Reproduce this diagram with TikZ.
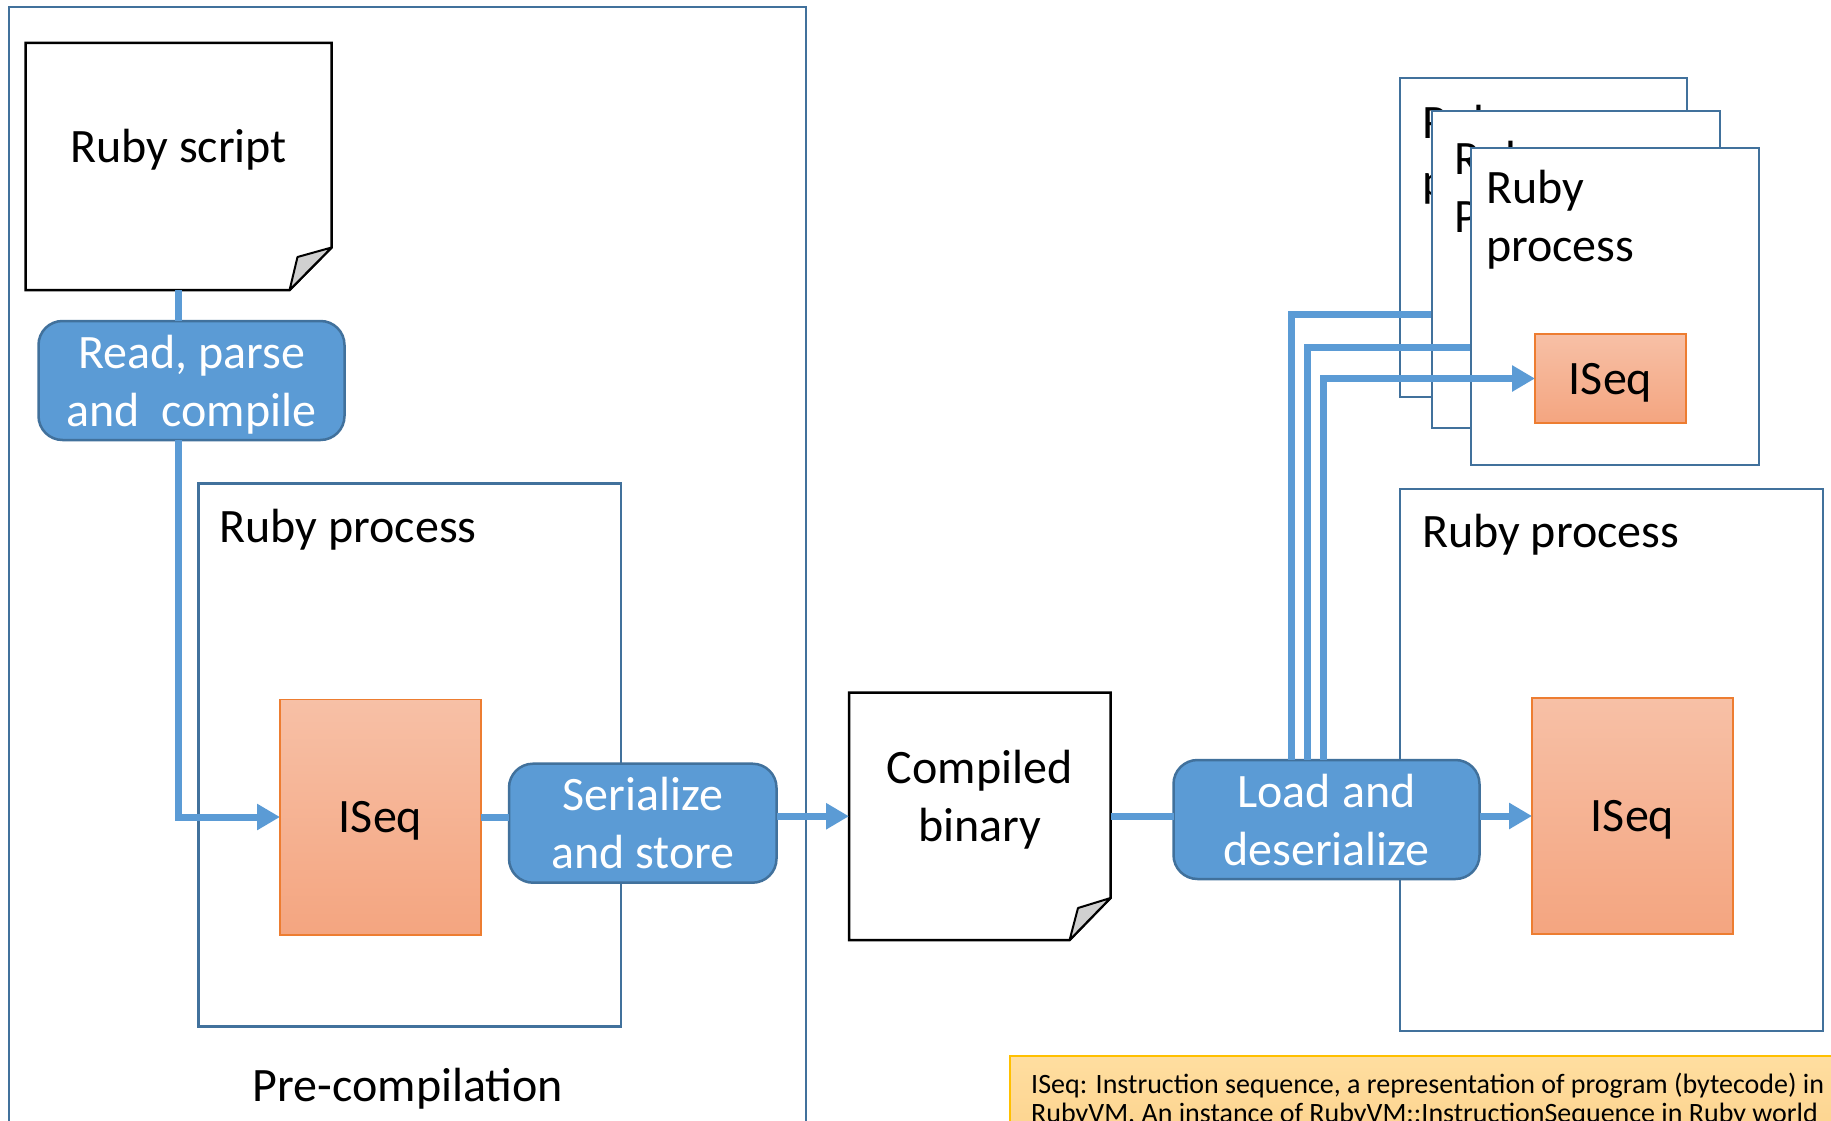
\documentclass[tikz,border=0pt]{standalone}
\usepackage{fontspec}
\setmainfont{Carlito}
\usetikzlibrary{arrows.meta,calc}
\definecolor{connblue}{RGB}{91,155,213}
\definecolor{boxfill}{RGB}{91,155,213}
\definecolor{boxline}{RGB}{65,113,156}
\definecolor{frameblue}{RGB}{65,113,156}
\definecolor{isqtop}{RGB}{247,192,166}
\definecolor{isqbot}{RGB}{244,165,128}
\definecolor{isqline}{RGB}{237,125,49}
\definecolor{notetop}{RGB}{255,222,160}
\definecolor{notebot}{RGB}{252,210,140}
\definecolor{noteline}{RGB}{255,192,0}
\definecolor{foldgray}{RGB}{208,208,208}
\begin{document}
\begin{tikzpicture}[x=1pt,y=-1pt,
  bigtext/.style={font=\fontsize{48}{58}\selectfont, inner sep=0pt, outer sep=0pt},
  procbox/.style={draw=frameblue, line width=2.2pt, fill=white, inner sep=0pt, outer sep=0pt, anchor=north west},
  stepbox/.style={draw=boxline, line width=2.5pt, fill=boxfill, rounded corners=24pt, text=white, align=center, inner sep=0pt, outer sep=0pt, anchor=north west, text depth=0pt, font=\fontsize{48}{58}\selectfont},
  iseqbox/.style={draw=isqline, line width=1.5pt, top color=isqtop, bottom color=isqbot, inner sep=0pt, outer sep=0pt, anchor=north west, text depth=0pt, font=\fontsize{48}{58}\selectfont},
  ghost/.style={draw=none, inner sep=0pt, outer sep=0pt, anchor=north west},
  docline/.style={draw=black, line width=2.5pt, fill=white, line join=miter},
  flapline/.style={draw=black, line width=2pt, fill=foldgray, line join=round},
  connline/.style={draw=connblue, line width=7pt},
  witharrow/.style={-{Triangle[length=23pt,width=25pt]}},
]
\useasboundingbox (0,0) rectangle (1831,1121);

% Pre-compilation frame
\node[procbox, minimum width=797pt, minimum height=1140pt] (pre) at (9,7) {};
\node[bigtext, anchor=base] (pretext) at (408,1101) {Pre-compilation};

% inner Ruby process (left)
\node[procbox, minimum width=422.5pt, minimum height=543pt] (lproc) at (198.5,483.5) {};
\node[bigtext, anchor=base west] (lproctext) at (219.5,542) {Ruby process};

% Ruby script document
\node[ghost, minimum width=306pt, minimum height=247pt] (rs) at (25.7,43) {};
\path[docline] (25.7,43) -- (331.6,43) -- (331.6,247.5) -- (289.6,290) -- (25.7,290) -- cycle;
\path[flapline] (331.6,247.5) -- (297.5,257) -- (289.6,290) -- cycle;
\node[bigtext, anchor=base] (rstext) at (178.6,162) {Ruby script};

% Read, parse and compile
\node[stepbox, minimum width=306pt, minimum height=119pt] (read) at (38.5,321) {Read, parse\\and\ \ compile};

\draw[connline] (rs.south) -- (read.north -| rs.south);
\draw[connline, witharrow] (read.south -| rs.south) |- (280,817) coordinate (iseqLin);

% ISeq left
\node[iseqbox, minimum width=201pt, minimum height=235.5pt] (iseqL) at (280,699.5) {ISeq};

% Serialize and store
\node[stepbox, minimum width=267.5pt, minimum height=119pt] (ser) at (509,763.7) {Serialize\\and store};
\draw[connline] (iseqL.east) -- (iseqL.east -| ser.west);

% Compiled binary document
\node[ghost, minimum width=261.5pt, minimum height=247.5pt] (cb) at (849,692.5) {};
\path[docline] (849,692.5) -- (1110.5,692.5) -- (1110.5,898) -- (1069.6,940) -- (849,940) -- cycle;
\path[flapline] (1110.5,898) -- (1078,908) -- (1069.6,940) -- cycle;
\node[bigtext, align=center] (cbtext) at (979.7,800) {Compiled\\binary};
\draw[connline, witharrow] (cb.west -| ser.east) -- (cb.west);

% Right Ruby process
\node[procbox, minimum width=423pt, minimum height=542pt] (rproc) at (1400,489) {};
\node[bigtext, anchor=base west] (rproctext) at (1422,547) {Ruby process};
\node[iseqbox, minimum width=201pt, minimum height=236pt] (iseqR) at (1532,698) {ISeq};

% Load and deserialize
\node[stepbox, minimum width=306pt, minimum height=119pt] (load) at (1173.5,760) {Load and\\deserialize};
\draw[connline] (cb.east) -- (cb.east -| load.west);
\draw[connline, witharrow] (iseqR.west -| load.east) -- (iseqR.west);

% stacked Ruby processes
\coordinate (e1) at (1432,314);
\coordinate (e2) at (1471,347);
\node[procbox, minimum width=287pt, minimum height=319pt] (pb1) at (1400,78) {};
\node[bigtext, anchor=west, align=left] (pb1text) at (1422,155) {Ruby\\process};
\draw[connline] ($(load.north west)+(117.5,0)$) |- (e1);
\node[procbox, minimum width=288pt, minimum height=317pt] (pb2) at (1432,111) {};
\node[bigtext, anchor=west, align=left] (pb2text) at (1454,187) {Ruby\\Process};
\draw[connline] ($(load.north west)+(133.5,0)$) |- (e2);
\node[procbox, minimum width=288pt, minimum height=317pt] (pb3) at (1471,148) {};
\node[bigtext, anchor=west, align=left] (pb3text) at (1486,220) {Ruby\\process};
\node[iseqbox, minimum width=151pt, minimum height=89pt] (siseq) at (1535,334) {ISeq};
\draw[connline, witharrow] ($(load.north west)+(149.5,0)$) |- (siseq.west);

% note
\node[draw=noteline, line width=1.5pt, top color=notetop, bottom color=notebot, inner sep=0pt, outer sep=0pt, anchor=north west, minimum width=830pt, minimum height=90pt] (note) at (1010,1056) {};
\node[font=\fontsize{28}{29}\selectfont, inner sep=0pt, anchor=west, align=left] (notetext) at (1031,1100) {ISeq: Instruction sequence, a representation of program (bytecode) in\\RubyVM. An instance of RubyVM::InstructionSequence in Ruby world};
\end{tikzpicture}
\end{document}
